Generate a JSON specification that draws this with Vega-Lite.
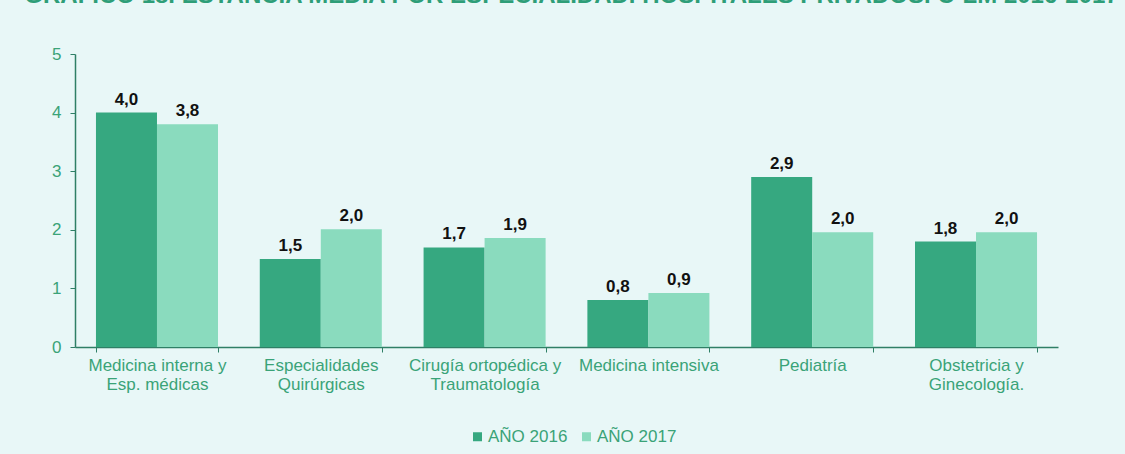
{
  "$schema": "https://vega.github.io/schema/vega-lite/v6.json",
  "width": 983,
  "height": 293,
  "autosize": {"type": "none"},
  "padding": {"left": 75, "top": 54, "right": 67, "bottom": 107},
  "background": "#E8F7F7",
  "title": {
    "text": "GRÁFICO 18. ESTANCIA MEDIA POR ESPECIALIDAD. HOSPITALES PRIVADOS. C-LM 2016-2017",
    "fontSize": 24,
    "fontWeight": "bold",
    "color": "#2E9E78",
    "anchor": "middle",
    "frame": "group",
    "dx": 5,
    "offset": 0,
    "dy": -37
  },
  "data": {
    "values": [
      {"especialidad": "Medicina interna y|Esp. médicas", "anio": "AÑO 2016", "estancia": 4.0},
      {"especialidad": "Medicina interna y|Esp. médicas", "anio": "AÑO 2017", "estancia": 3.8},
      {"especialidad": "Especialidades|Quirúrgicas", "anio": "AÑO 2016", "estancia": 1.5},
      {"especialidad": "Especialidades|Quirúrgicas", "anio": "AÑO 2017", "estancia": 2.01},
      {"especialidad": "Cirugía ortopédica  y|Traumatología", "anio": "AÑO 2016", "estancia": 1.7},
      {"especialidad": "Cirugía ortopédica  y|Traumatología", "anio": "AÑO 2017", "estancia": 1.86},
      {"especialidad": "Medicina intensiva", "anio": "AÑO 2016", "estancia": 0.8},
      {"especialidad": "Medicina intensiva", "anio": "AÑO 2017", "estancia": 0.92},
      {"especialidad": "Pediatría", "anio": "AÑO 2016", "estancia": 2.9},
      {"especialidad": "Pediatría", "anio": "AÑO 2017", "estancia": 1.96},
      {"especialidad": "Obstetricia y|Ginecología.", "anio": "AÑO 2016", "estancia": 1.8},
      {"especialidad": "Obstetricia y|Ginecología.", "anio": "AÑO 2017", "estancia": 1.96}
    ]
  },
  "encoding": {
    "x": {
      "field": "especialidad",
      "type": "nominal",
      "sort": null,
      "title": null,
      "scale": {"paddingInner": 0.255, "paddingOuter": 0.128},
      "axis": {
        "labelExpr": "split(datum.label, '|')",
        "labelAngle": 0,
        "labelFontSize": 17,
        "labelColor": "#3AA378",
        "labelLineHeight": 19,
        "labelPadding": 5,
        "labelLimit": 300,
        "tickBand": "extent",
        "tickSize": 5,
        "tickColor": "#2F7F66",
        "domainColor": "#2F7F66",
        "domainWidth": 1.5
      }
    },
    "xOffset": {"field": "anio", "type": "nominal", "sort": null, "scale": {"paddingInner": 0, "paddingOuter": 0}},
    "y": {
      "field": "estancia",
      "type": "quantitative",
      "title": null,
      "scale": {"domain": [0, 5], "nice": false},
      "axis": {
        "values": [0, 1, 2, 3, 4, 5],
        "grid": false,
        "labelFontSize": 17,
        "labelColor": "#3AA378",
        "labelPadding": 9,
        "tickSize": 5,
        "tickColor": "#2F7F66",
        "domainColor": "#2F7F66",
        "domainWidth": 1.5
      }
    }
  },
  "layer": [
    {
      "mark": {"type": "bar"},
      "encoding": {
        "color": {
          "field": "anio",
          "type": "nominal",
          "sort": null,
          "scale": {"range": ["#36A880", "#8ADBBE"]},
          "legend": {
            "title": null,
            "orient": "none",
            "legendX": 394,
            "legendY": 374,
            "direction": "horizontal",
            "symbolType": "square",
            "symbolSize": 81,
            "symbolStrokeWidth": 0,
            "labelFontSize": 17,
            "labelColor": "#3AA378",
            "labelOffset": 2,
            "columnPadding": 10
          }
        }
      }
    },
    {
      "mark": {"type": "text", "baseline": "bottom", "dy": -4, "fontSize": 17, "fontWeight": "bold", "color": "#111111"},
      "encoding": {
        "text": {"field": "estancia", "type": "quantitative", "format": ".1f"}
      }
    }
  ],
  "config": {
    "font": "Liberation Sans",
    "view": {"stroke": null},
    "locale": {
      "number": {"decimal": ",", "thousands": ".", "grouping": [3], "currency": ["", " €"]}
    }
  }
}
